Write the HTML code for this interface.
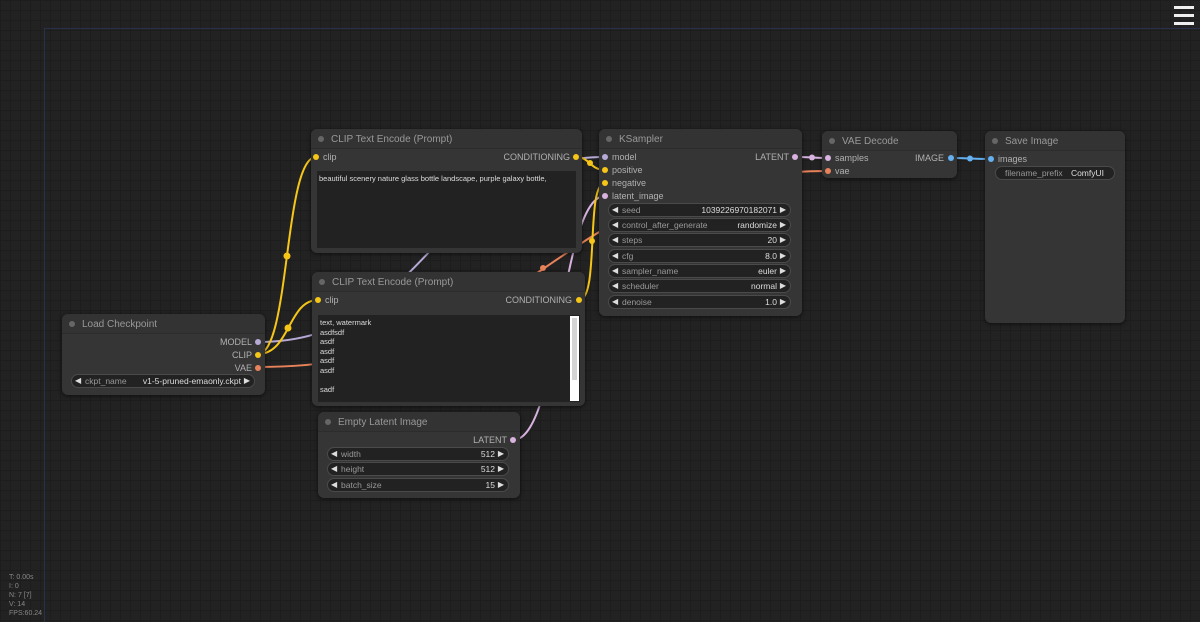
<!DOCTYPE html>
<html><head><meta charset="utf-8"><style>
*{margin:0;padding:0;box-sizing:border-box}
body{width:1200px;height:622px;overflow:hidden;position:relative;background:#222;
background-image:linear-gradient(#1d1d1d 1px,transparent 1px),linear-gradient(90deg,#1d1d1d 1px,transparent 1px);background-size:10px 10px;
font-family:"Liberation Sans",Arial,sans-serif;font-size:9px;color:#aaa}
.vl{position:absolute;left:44px;top:28px;width:1px;height:594px;background:#27324a}
.hl{position:absolute;left:44px;top:28px;width:1156px;height:1px;background:#27324a}
.n{position:absolute;background:#353535;border-radius:6px;box-shadow:0 1px 4px rgba(0,0,0,.6)}
.t{position:absolute;left:0;right:0;top:0;height:20px;background:#333;border-radius:6px 6px 0 0;border-bottom:1px solid #2c2c2c;color:#999;font-size:10px;line-height:21px;padding-left:20px}
.t:before{content:"";position:absolute;left:7px;top:7px;width:6px;height:6px;border-radius:50%;background:#666}
.s{position:absolute;font-size:9px;color:#b0b0b0;white-space:nowrap}
.d{position:absolute;width:6px;height:6px;border-radius:50%}
.w{position:absolute;height:14px;border:1px solid #4a4a4a;border-radius:7px;background:#222;color:#999;font-size:8.5px;line-height:12px;padding-left:13px}
.w:before{content:"◀";position:absolute;left:3px;font-size:8px;color:#ddd}
.w:after{content:"▶";position:absolute;right:4px;font-size:8px;color:#ddd}
.w.na:before,.w.na:after{content:none}
.w b{position:absolute;right:13px;font-weight:normal;color:#ddd}
.ta{position:absolute;background:#222;color:#ddd;font-size:7.5px;line-height:9.6px;padding:3px 2px}
.st{position:absolute;left:9px;top:573px;font-size:7px;line-height:9px;color:#888}
.hb{position:absolute;left:1174px;width:20px;height:3px;background:#eee}
</style></head><body>
<div class="vl"></div><div class="hl"></div>
<div class="hb" style="top:6px"></div><div class="hb" style="top:14px"></div><div class="hb" style="top:22px"></div>

<svg width="1200" height="622" style="position:absolute;left:0;top:0" fill="none" stroke-width="2">
<path d="M258,342 C430,342 433,157 605,157" stroke="#b7a9d6"/>
<path d="M258,367 C543,367 543,171 828,171" stroke="#e8825a"/>
<circle cx="543" cy="268" r="3" fill="#e8825a"/>
<path d="M513,440 C560,440 560,196 605,196" stroke="#d9b3e0"/>
<path d="M258,354 C290,354 284,157 316,157" stroke="#f5c518"/>
<circle cx="287" cy="256" r="3.5" fill="#f5c518"/>
<path d="M258,354 C290,354 288,300 318,300" stroke="#f5c518"/>
<circle cx="288" cy="328" r="3.5" fill="#f5c518"/>
<path d="M576,157 C590,157 590,170 605,170" stroke="#f5c518"/>
<circle cx="590" cy="163" r="3" fill="#f5c518"/>
<path d="M579,300 C600,300 585,183 605,183" stroke="#f5c518"/>
<circle cx="592" cy="241" r="3" fill="#f5c518"/>
<path d="M796,157 C812,157 812,158 828,158" stroke="#d9b3e0"/>
<circle cx="812" cy="157.5" r="3" fill="#d9b3e0"/>
<path d="M951,158 C970,158 970,159 990,159" stroke="#64b0f0"/>
<circle cx="970" cy="158.5" r="3" fill="#64b0f0"/>
</svg>

<!-- CLIP 1 -->
<div class="n" style="left:311px;top:129px;width:271px;height:124px">
<div class="t">CLIP Text Encode (Prompt)</div>
<div class="d" style="left:2px;top:25px;background:#f5c518"></div><div class="s" style="left:12px;top:23px">clip</div>
<div class="s" style="right:12px;top:23px">CONDITIONING</div><div class="d" style="right:3px;top:25px;background:#f5c518"></div>
<div class="ta" style="left:6px;top:42px;width:259px;height:77px">beautiful scenery nature glass bottle landscape, purple galaxy bottle,</div>
</div>

<!-- CLIP 2 -->
<div class="n" style="left:312px;top:272px;width:273px;height:134px">
<div class="t">CLIP Text Encode (Prompt)</div>
<div class="d" style="left:3px;top:25px;background:#f5c518"></div><div class="s" style="left:13px;top:23px">clip</div>
<div class="s" style="right:13px;top:23px">CONDITIONING</div><div class="d" style="right:3px;top:25px;background:#f5c518"></div>
<div class="ta" style="left:6px;top:43px;width:262px;height:87px">text, watermark<br>asdfsdf<br>asdf<br>asdf<br>asdf<br>asdf<br><br>sadf</div>
<div style="position:absolute;left:258px;top:44px;width:9px;height:85px;background:#fff"><div style="margin:2px;height:62px;background:#d4d4d4"></div></div>
</div>

<!-- KSampler -->
<div class="n" style="left:599px;top:129px;width:203px;height:187px">
<div class="t">KSampler</div>
<div class="d" style="left:3px;top:25px;background:#b7a9d6"></div><div class="s" style="left:13px;top:23px">model</div>
<div class="s" style="right:13px;top:23px">LATENT</div><div class="d" style="right:4px;top:25px;background:#d9b3e0"></div>
<div class="d" style="left:3px;top:38px;background:#f5c518"></div><div class="s" style="left:13px;top:36px">positive</div>
<div class="d" style="left:3px;top:51px;background:#f5c518"></div><div class="s" style="left:13px;top:49px">negative</div>
<div class="d" style="left:3px;top:64px;background:#d9b3e0"></div><div class="s" style="left:13px;top:62px">latent_image</div>
<div class="w" style="left:9px;top:74px;width:183px">seed<b>1039226970182071</b></div>
<div class="w" style="left:9px;top:89px;width:183px">control_after_generate<b>randomize</b></div>
<div class="w" style="left:9px;top:104px;width:183px">steps<b>20</b></div>
<div class="w" style="left:9px;top:120px;width:183px">cfg<b>8.0</b></div>
<div class="w" style="left:9px;top:135px;width:183px">sampler_name<b>euler</b></div>
<div class="w" style="left:9px;top:150px;width:183px">scheduler<b>normal</b></div>
<div class="w" style="left:9px;top:166px;width:183px">denoise<b>1.0</b></div>
</div>

<!-- VAE Decode -->
<div class="n" style="left:822px;top:131px;width:135px;height:47px">
<div class="t">VAE Decode</div>
<div class="d" style="left:3px;top:24px;background:#d9b3e0"></div><div class="s" style="left:13px;top:22px">samples</div>
<div class="s" style="right:13px;top:22px">IMAGE</div><div class="d" style="right:3px;top:24px;background:#64b0f0"></div>
<div class="d" style="left:3px;top:37px;background:#e8825a"></div><div class="s" style="left:13px;top:35px">vae</div>
</div>

<!-- Save Image -->
<div class="n" style="left:985px;top:131px;width:140px;height:192px">
<div class="t">Save Image</div>
<div class="d" style="left:3px;top:25px;background:#64b0f0"></div><div class="s" style="left:13px;top:23px">images</div>
<div class="w na" style="left:10px;top:35px;width:120px;padding-left:9px">filename_prefix<b style="right:10px">ComfyUI</b></div>
</div>

<!-- Load Checkpoint -->
<div class="n" style="left:62px;top:314px;width:203px;height:81px">
<div class="t">Load Checkpoint</div>
<div class="s" style="right:13px;top:23px">MODEL</div><div class="d" style="right:4px;top:25px;background:#b7a9d6"></div>
<div class="s" style="right:13px;top:36px">CLIP</div><div class="d" style="right:4px;top:38px;background:#f5c518"></div>
<div class="s" style="right:13px;top:49px">VAE</div><div class="d" style="right:4px;top:51px;background:#e8825a"></div>
<div class="w" style="left:9px;top:60px;width:184px">ckpt_name<b>v1-5-pruned-emaonly.ckpt</b></div>
</div>

<!-- Empty Latent -->
<div class="n" style="left:318px;top:412px;width:202px;height:86px">
<div class="t">Empty Latent Image</div>
<div class="s" style="right:13px;top:23px">LATENT</div><div class="d" style="right:4px;top:25px;background:#d9b3e0"></div>
<div class="w" style="left:9px;top:35px;width:182px">width<b>512</b></div>
<div class="w" style="left:9px;top:50px;width:182px">height<b>512</b></div>
<div class="w" style="left:9px;top:66px;width:182px">batch_size<b>15</b></div>
</div>

<div class="st">T: 0.00s<br>I: 0<br>N: 7 [7]<br>V: 14<br>FPS:60.24</div>
</body></html>
